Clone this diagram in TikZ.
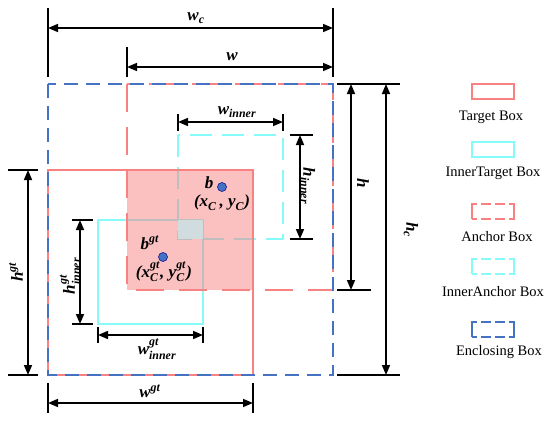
\documentclass[tikz,border=0pt]{standalone}
\usepackage{amsmath}
\usepackage{fontspec}
\setmainfont{Liberation Serif}
\usetikzlibrary{arrows.meta}
\definecolor{tgtred}{RGB}{248,130,130}
\definecolor{incyan}{RGB}{135,250,250}
\definecolor{encblue}{RGB}{70,114,196}
\definecolor{dotblue}{RGB}{68,114,196}
\definecolor{ovgray}{RGB}{208,220,222}
\newcommand{\bim}[1]{\textbf{\textit{#1}}}

\begin{document}
\begin{tikzpicture}[x=1pt,y=-1pt,
  dimline/.style={line width=1.6pt,{Triangle[length=10pt,width=8pt]}-{Triangle[length=10pt,width=8pt]}},
  tickline/.style={line width=1.6pt},
  lab/.style={font=\fontsize{17}{19}\selectfont,inner sep=0pt},
  legtext/.style={font=\fontsize{14.5}{16}\selectfont,inner sep=0pt},
  tgtbox/.style={draw=tgtred,line width=1.8pt},
  innertgtbox/.style={draw=incyan,line width=1.8pt},
  anchorbox/.style={draw=tgtred,line width=1.8pt,dash pattern=on 28pt off 15pt},
  inneranchorbox/.style={draw=incyan,line width=1.8pt,dash pattern=on 22pt off 10pt},
  enclbox/.style={draw=encblue,line width=1.8pt,dash pattern=on 14pt off 8pt},
  legdash/.style={dash pattern=on 25pt off 4pt on 10pt off 4pt on 10pt off 4pt,dash phase=5pt},
  ctr/.style={circle,fill=dotblue,draw=blue!50!black,line width=0.5pt,inner sep=0pt,minimum size=9pt}]
\useasboundingbox (0,0) rectangle (550,423);

\coordinate (enc1) at (48,84);   \coordinate (enc2) at (333,375);
\coordinate (anc1) at (127,84);  \coordinate (anc2) at (333,290);
\coordinate (tgt1) at (48,170);  \coordinate (tgt2) at (253,375);
\coordinate (ia1) at (178,135);  \coordinate (ia2) at (283,239);
\coordinate (it1) at (98,220);   \coordinate (it2) at (203,324);

\draw[innertgtbox] (it1) rectangle (it2);
\draw[inneranchorbox] (ia1) rectangle (ia2);
\fill[tgtred,opacity=.5] (anc1 |- tgt1) rectangle (tgt2 |- anc2);
\fill[ovgray] (ia1 |- it1) rectangle (it2 |- ia2);
\draw[tgtbox] (tgt1) rectangle (tgt2);
\draw[anchorbox] (anc1) rectangle (anc2);
\draw[enclbox] (enc1) rectangle (enc2);

\node[ctr] (b) at (222,187) {};
\node[ctr] (bgt) at (163,257) {};
\node[lab] (lb) at (209,183) {\bim{b}};
\node[lab] (lxy) at (222,203) {$\bim{(x}_{\bim{C}}\bim{\,, y}_{\bim{C}}\bim{)}$};
\node[lab] (lbgt) at (150,243) {$\bim{b}^{\bim{gt}}$};
\node[lab] (lxygt) at (164,272) {$\bim{(x}^{\bim{gt}}_{\bim{C}}\bim{, y}^{\bim{gt}}_{\bim{C}}\bim{)}$};

\coordinate (wc-l) at (48,28);   \coordinate (wc-r) at (333,28);
\coordinate (w-l) at (127,67);   \coordinate (w-r) at (333,67);
\coordinate (wi-l) at (178,122); \coordinate (wi-r) at (283,122);
\coordinate (hi-t) at (300,135); \coordinate (hi-b) at (300,239);
\coordinate (h-t) at (351,84);   \coordinate (h-b) at (351,290);
\coordinate (hc-t) at (386,84);  \coordinate (hc-b) at (386,375);
\coordinate (hg-t) at (28,170);  \coordinate (hg-b) at (28,375);
\coordinate (hgi-t) at (80,220); \coordinate (hgi-b) at (80,324);
\coordinate (wgi-l) at (98,335); \coordinate (wgi-r) at (203,335);
\coordinate (wg-l) at (48,403);  \coordinate (wg-r) at (253,403);

\draw[tickline] (wc-l) ++(0,-20) -- ++(0,69);
\draw[tickline] (wc-r) ++(0,-20) -- ++(0,69);
\draw[tickline] (w-l) ++(0,-20) -- ++(0,30);
\draw[tickline] (wi-l) ++(0,-8) -- ++(0,17);
\draw[tickline] (wi-r) ++(0,-8) -- ++(0,17);
\draw[tickline] (hi-t) ++(-10,0) -- ++(23,0);
\draw[tickline] (hi-b) ++(-10,0) -- ++(23,0);
\draw[tickline] (h-t) ++(-14,0) -- ++(63,0);
\draw[tickline] (h-b) ++(-14,0) -- ++(34,0);
\draw[tickline] (hc-b) ++(-49,0) -- ++(63,0);
\draw[tickline] (hg-t) ++(-20,0) -- ++(30,0);
\draw[tickline] (hg-b) ++(-20,0) -- ++(30,0);
\draw[tickline] (hgi-t) ++(-8,0) -- ++(21,0);
\draw[tickline] (hgi-b) ++(-8,0) -- ++(21,0);
\draw[tickline] (wgi-l) ++(0,-8) -- ++(0,16);
\draw[tickline] (wgi-r) ++(0,-8) -- ++(0,16);
\draw[tickline] (wg-l) ++(0,-20) -- ++(0,30);
\draw[tickline] (wg-r) ++(0,-20) -- ++(0,30);

\draw[dimline] (wc-l) -- (wc-r);
\draw[dimline] (w-l) -- (w-r);
\draw[dimline] (wi-l) -- (wi-r);
\draw[dimline] (hi-t) -- (hi-b);
\draw[dimline] (h-t) -- (h-b);
\draw[dimline] (hc-t) -- (hc-b);
\draw[dimline] (hg-t) -- (hg-b);
\draw[dimline] (hgi-t) -- (hgi-b);
\draw[dimline] (wgi-l) -- (wgi-r);
\draw[dimline] (wg-l) -- (wg-r);

\node[lab] (lwc) at (196,18) {$\bim{w}_{\bim{c}}$};
\node[lab] (lw) at (232,57) {\bim{w}};
\node[lab] (lwi) at (237,112) {$\bim{w}_{\bim{inner}}$};
\node[lab,rotate=-90] (lhi) at (308,186) {$\bim{h}_{\bim{inner}}$};
\node[lab,rotate=-90] (lh) at (363,183) {\bim{h}};
\node[lab,rotate=-90] (lhc) at (411,230) {$\bim{h}_{\bim{c}}$};
\node[lab,rotate=90] (lhg) at (16,272) {$\bim{h}^{\bim{gt}}$};
\node[lab,rotate=90] (lhgi) at (70,276) {$\bim{h}^{\bim{gt}}_{\bim{inner}}$};
\node[lab] (lwgi) at (157,349) {$\bim{w}^{\bim{gt}}_{\bim{inner}}$};
\node[lab] (lwg) at (150,391) {$\bim{w}^{\bim{gt}}$};

\draw[tgtbox] (472,99) rectangle (514,84);
\draw[innertgtbox] (472,157) rectangle (514,142);
\draw[tgtbox,legdash] (472,219) rectangle (514,204);
\draw[innertgtbox,legdash] (472,274) rectangle (514,259);
\draw[draw=encblue,line width=1.8pt,legdash] (472,337) rectangle (514,322);
\node[legtext] (ltgt) at (491,117) {Target Box};
\node[legtext] (litgt) at (493,173) {InnerTarget Box};
\node[legtext] (lanc) at (497,237) {Anchor Box};
\node[legtext] (lianc) at (493,292) {InnerAnchor Box};
\node[legtext] (lenc) at (499,352) {Enclosing Box};
\end{tikzpicture}
\end{document}
